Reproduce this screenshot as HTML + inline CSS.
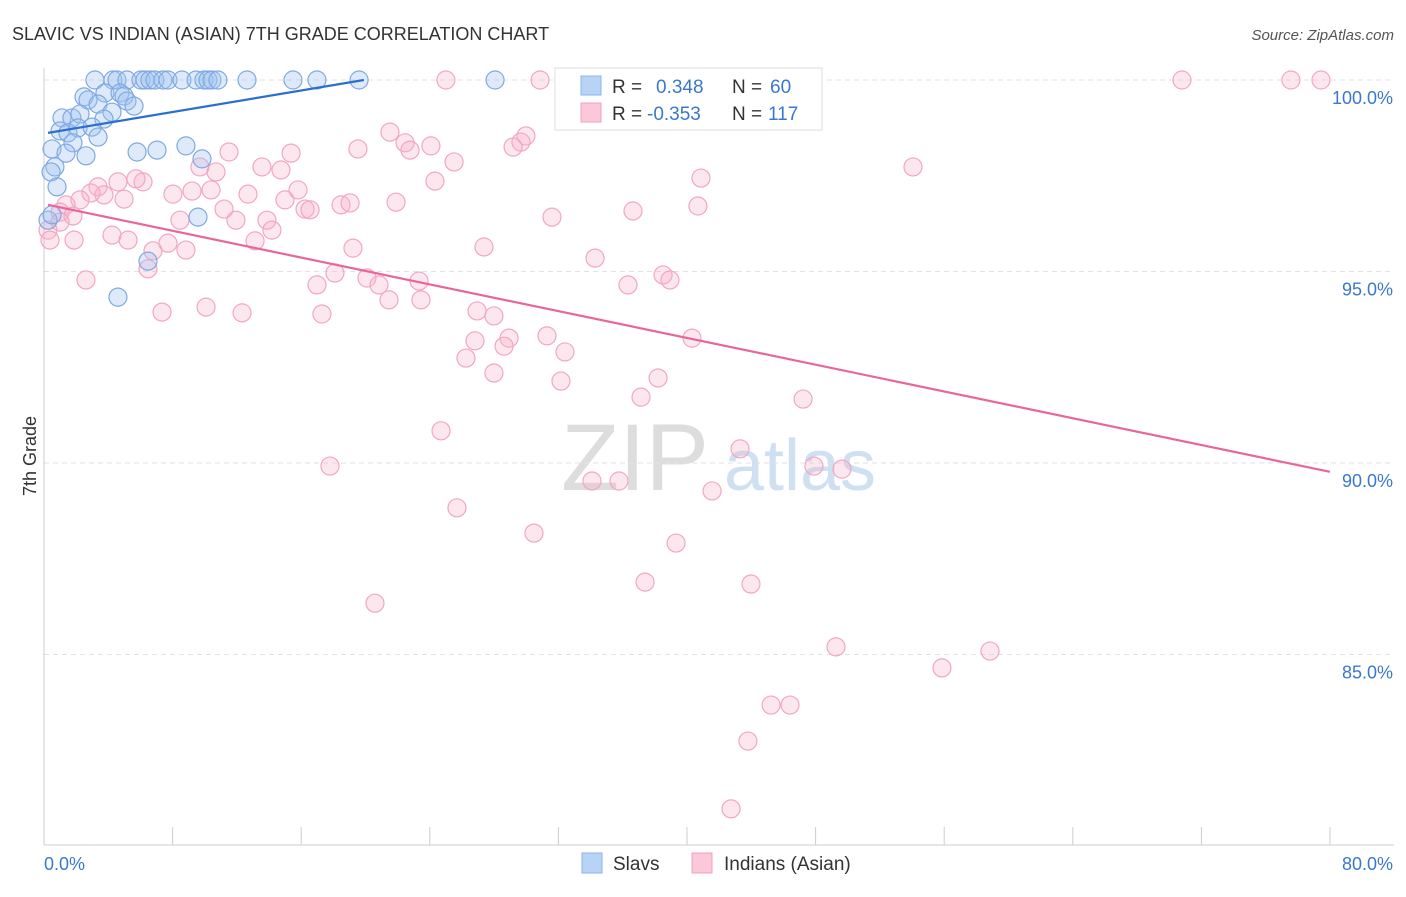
<!DOCTYPE html>
<html><head><meta charset="utf-8"><style>
body{margin:0;background:#fff;font-family:"Liberation Sans",sans-serif;}
svg text{font-family:"Liberation Sans",sans-serif;}
</style></head><body>
<svg id="chart" width="1406" height="892">
<text x="12" y="40" font-size="18" fill="#333">SLAVIC VS INDIAN (ASIAN) 7TH GRADE CORRELATION CHART</text>
<text x="1394" y="40" font-size="15" fill="#555" text-anchor="end" font-style="italic">Source: ZipAtlas.com</text>
<text x="36" y="456" font-size="18" fill="#333" text-anchor="middle" transform="rotate(-90 36 456)">7th Grade</text>
<g><text x="635" y="490" font-size="95" font-family="Liberation Serif" fill="#ddd" text-anchor="middle">ZIP</text><text x="800" y="490" font-size="72" fill="#cfe0f3" text-anchor="middle">atlas</text></g>
<g id="grid"></g><g id="axes"></g><g id="pts"></g><g id="trends"></g>
<g>
<rect x="555" y="68" width="267" height="62" fill="#fff" stroke="#ddd"/>
<rect x="581" y="76" width="20" height="19" fill="#b8d3f5" stroke="#8ab4ea"/>
<rect x="581" y="103" width="20" height="19" fill="#fbc8d8" stroke="#f0a0bf"/>
<text x="612" y="93" font-size="19" fill="#333">R =</text><text x="656" y="93" font-size="19" fill="#3a78d0">0.348</text>
<text x="732" y="93" font-size="19" fill="#333">N =</text><text x="770" y="93" font-size="19" fill="#3a78d0">60</text>
<text x="612" y="120" font-size="19" fill="#333">R =</text><text x="647" y="120" font-size="19" fill="#3a78d0">-0.353</text>
<text x="732" y="120" font-size="19" fill="#333">N =</text><text x="768" y="120" font-size="19" fill="#3a78d0">117</text>
</g>
<g>
<rect x="582" y="853" width="20" height="20" fill="#b8d3f5" stroke="#8ab4ea"/><text x="613" y="870" font-size="19" fill="#333">Slavs</text>
<rect x="692" y="853" width="20" height="20" fill="#fbc8d8" stroke="#f0a0bf"/><text x="724" y="870" font-size="19" fill="#333">Indians (Asian)</text>
</g>
</svg>
<script>
const xTicks=[0,8,16,24,32,40,48,56,64,72,80];
const yTicks=[100,95,90,85];
const blueX=[3.17,4.29,4.54,5.16,6.03,6.28,6.59,6.9,7.4,7.71,8.58,9.46,9.95,10.2,10.45,10.82,12.63,15.49,16.98,19.6,28.06,32.54,45.97,2.49,3.79,4.73,4.98,2.74,5.16,5.6,3.36,1.12,1.74,2.24,4.23,3.73,1.0,1.49,2.12,2.99,3.36,0.5,1.8,1.37,2.61,5.79,7.03,8.83,9.83,0.68,0.44,0.81,0.25,0.5,9.58,6.47,4.6];
const blueY=[100,100,100,100,100,100,100,100,100,100,100,100,100,100,100,100,100,100,100,100,100,100,100,99.56,99.66,99.66,99.58,99.48,99.45,99.32,99.37,99.01,99.01,99.11,99.16,98.98,98.67,98.62,98.75,98.77,98.51,98.2,98.36,98.09,98.02,98.12,98.17,98.28,97.94,97.73,97.6,97.21,96.34,96.48,96.42,95.27,94.33];
const pinkX=[25,30.86,46.84,70.79,77.57,79.44,21.52,22.46,22.77,24.07,19.53,25.51,29.98,29.67,29.18,11.51,15.37,13.56,14.74,10.7,9.7,54.06,40.87,24.32,15.8,12.69,10.39,9.21,8.02,6.16,5.72,4.6,3.36,3.73,2.92,4.98,2.24,1.37,1.0,1.8,16.24,16.55,18.48,19.04,21.9,14.99,11.2,11.94,13.87,14.18,8.46,31.6,36.64,40.68,1.0,0.25,0.37,1.87,4.23,5.23,6.78,7.71,8.83,13.13,19.22,27.37,34.28,6.47,2.61,18.1,16.98,20.09,20.84,23.33,21.46,23.45,38.51,38.94,36.33,7.34,10.08,12.32,17.29,26.94,27.99,31.29,28.93,28.62,26.81,26.25,32.41,40.31,27.99,32.16,38.2,37.14,47.22,24.7,17.79,43.3,47.9,49.64,34.09,35.77,41.56,25.69,30.48,39.32,37.39,43.98,20.59,49.27,58.85,55.86,45.23,46.41,43.79,42.74];
const pinkY=[100,100,100,100,100,100,98.64,98.36,98.17,98.28,98.2,97.86,98.54,98.38,98.25,98.12,98.09,97.73,97.65,97.6,97.73,97.73,97.44,97.36,97.13,97.02,97.13,97.1,97.02,97.34,97.42,97.34,97.21,97.0,97.05,96.89,96.87,96.74,96.55,96.45,96.63,96.61,96.74,96.79,96.81,96.87,96.63,96.34,96.34,96.08,96.34,96.42,96.58,96.71,96.29,96.08,95.82,95.82,95.95,95.82,95.54,95.74,95.56,95.8,95.61,95.64,95.35,95.07,94.78,94.96,94.65,94.83,94.65,94.75,94.26,94.26,94.91,94.78,94.65,93.94,94.07,93.92,93.89,93.97,93.84,93.32,93.26,93.05,93.19,92.74,92.9,93.26,92.35,92.14,92.22,91.72,91.67,90.84,89.92,90.37,89.92,89.84,89.53,89.53,89.27,88.83,88.17,87.91,86.89,86.84,86.34,85.2,85.09,84.65,83.68,83.68,82.74,80.97];
const blueTrend=[[0.25,98.62],[19.9,100]];
const pinkTrend=[[0.25,96.74],[80,89.77]];
const NS="http://www.w3.org/2000/svg";
const sx=v=>44+v*16.075, sy=v=>80+(100-v)*38.3;
function mk(tag,attrs,parent){const e=document.createElementNS(NS,tag);for(const k in attrs)e.setAttribute(k,attrs[k]);document.getElementById(parent).appendChild(e);return e;}
yTicks.forEach(t=>{const l=mk('line',{x1:44,x2:1394,y1:sy(t),y2:sy(t),stroke:'#e2e2e2','stroke-dasharray':'5,4'},'grid');


const tx=mk('text',{x:1393,y:sy(t)+24,'font-size':18,fill:'#3a78d0','text-anchor':'end'},'axes');tx.textContent=t.toFixed(1)+'%';

});
const ax=mk('line',{x1:44,x2:44,y1:68,y2:845,stroke:'#ccc'},'axes');


const bx=mk('line',{x1:44,x2:1394,y1:845,y2:845,stroke:'#ccc'},'axes');


xTicks.forEach(t=>{const l=mk('line',{x1:sx(t),x2:sx(t),y1:827,y2:845,stroke:'#ccc'},'axes');

});
[[0,'start'],[80,'end']].forEach(([t,a])=>{const tx=mk('text',{x:t===0?44:1393,y:870,'font-size':18,fill:'#3a78d0','text-anchor':a},'axes');tx.textContent=t.toFixed(1)+'%';

});
pinkX.forEach((x,i)=>{const c=mk('circle',{cx:sx(x),cy:sy(pinkY[i]),r:9,fill:'rgba(248,175,200,0.3)',stroke:'#f2a6c2','stroke-width':1.2},'pts');

});
blueX.forEach((x,i)=>{const c=mk('circle',{cx:sx(x),cy:sy(blueY[i]),r:9,fill:'rgba(160,195,240,0.35)',stroke:'#7fa9e2','stroke-width':1.2},'pts');

});
const bt=mk('line',{x1:sx(blueTrend[0][0]),y1:sy(blueTrend[0][1]),x2:sx(blueTrend[1][0]),y2:sy(blueTrend[1][1]),stroke:'#2a6fd0','stroke-width':2.2},'trends');


const pt=mk('line',{x1:sx(pinkTrend[0][0]),y1:sy(pinkTrend[0][1]),x2:sx(pinkTrend[1][0]),y2:sy(pinkTrend[1][1]),stroke:'#e8679a','stroke-width':2.2},'trends');


</script>
</body></html>
